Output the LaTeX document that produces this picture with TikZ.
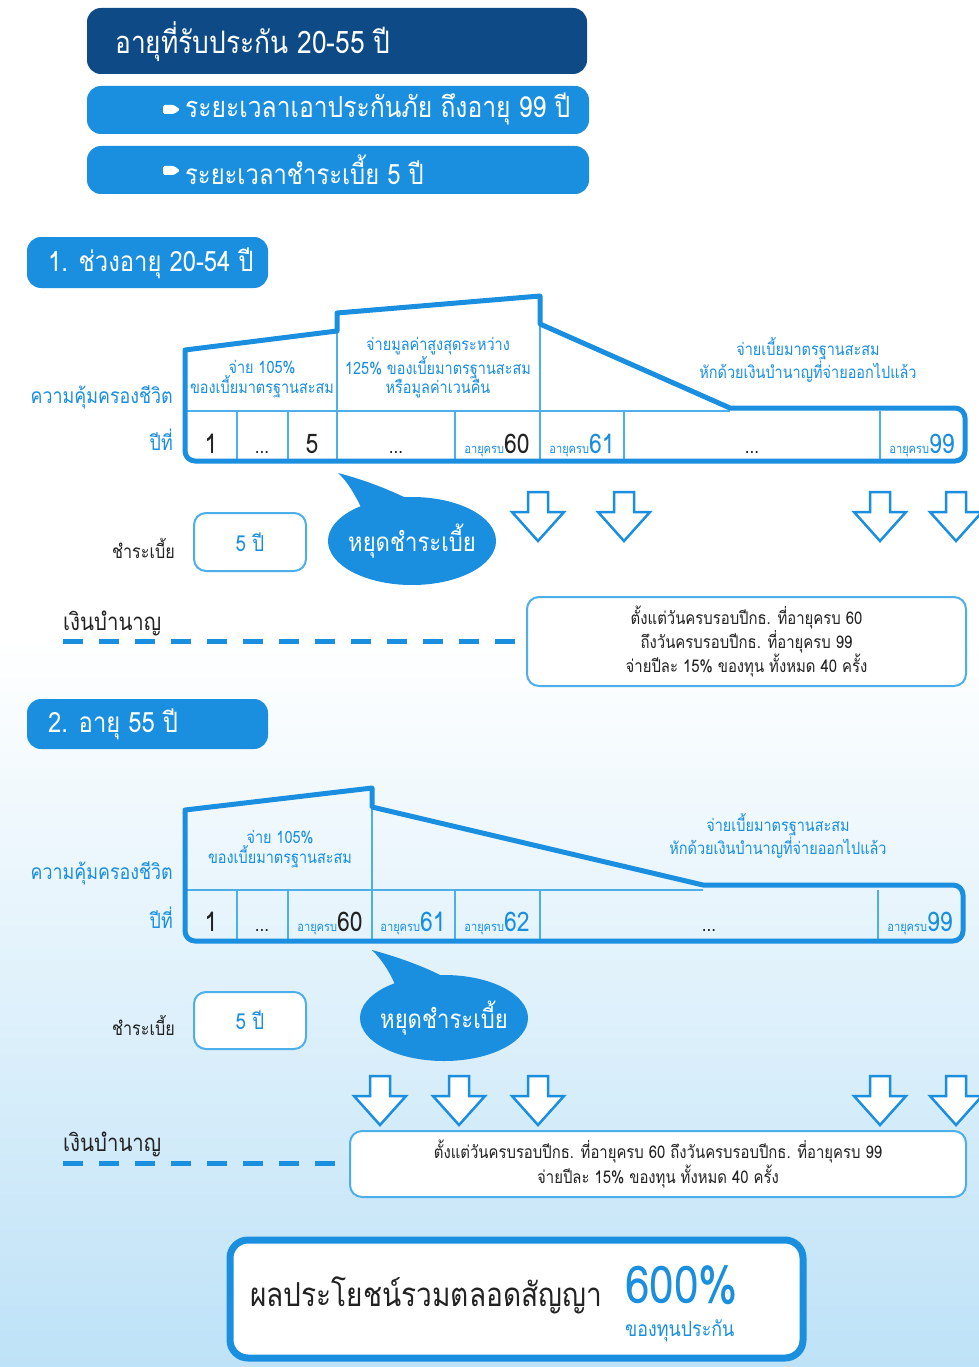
\documentclass[tikz,border=0pt]{standalone}
\usepackage{fontspec}
\setmainfont[Script=Thai, FakeStretch=0.85]{Loma}
\usetikzlibrary{shapes.geometric}
\definecolor{navy}{HTML}{0E4A86}
\definecolor{bblue}{HTML}{1A8EDF}
\definecolor{lblue}{HTML}{4DAFEA}
\definecolor{bgblue}{HTML}{BEE2F7}
\definecolor{txt}{HTML}{222222}
\newcommand{\fs}[1]{\fontsize{#1}{#1}\selectfont}
\newcommand{\ak}[2]{{\fs{13}\color{bblue}อายุครบ}{\fs{27}\color{#1}#2}}
\tikzset{
  navybox/.style={fill=navy, rounded corners=14},
  bluebox/.style={fill=bblue, rounded corners=14},
  thinbox/.style={draw=lblue, line width=2, fill=white, rounded corners=12},
  outline/.style={draw=bblue, line width=5, line join=round},
  cellline/.style={draw=lblue, line width=2},
  arrowline/.style={draw=bblue, line width=2.5, fill=white, line join=miter},
  dashline/.style={draw=bblue, line width=5, dash pattern=on 20 off 16},
  bubble/.style={fill=bblue},
  whitetxt/.style={text=white, inner sep=0, anchor=west},
  bluelbl/.style={text=bblue, inner sep=0},
  hdr/.style={text=bblue, inner sep=0, align=center, font=\fs{17}},
  yr/.style={text=txt, inner sep=0, anchor=base},
  darrow/.pic={\draw[arrowline] (-10,0) -- (10,0) -- (10,20) -- (26,20) -- (0,49) -- (-26,20) -- (-10,20) -- cycle;}
}
\begin{document}
\begin{tikzpicture}[x=1pt,y=-1pt]
\useasboundingbox (0,0) rectangle (979,1367);
\fill[white] (0,0) rectangle (979,640);
\shade[top color=white, bottom color=bgblue] (0,640) rectangle (979,1367);

% header boxes
\fill[navybox] (87,8) rectangle (587,74);
\node[whitetxt, font=\fs{31}] (h1) at (115,42) {อายุที่รับประกัน 20-55 ปี};
\fill[bluebox] (87,86) rectangle (589,134);
\fill[white, rounded corners=1.5] (163,105) -- (174,105) -- (180,109.5) -- (174,114) -- (163,114) -- cycle;
\node[whitetxt, font=\fs{29}] (h2) at (185,109) {ระยะเวลาเอาประกันภัย ถึงอายุ 99 ปี};
\fill[bluebox] (87,146) rectangle (589,194);
\fill[white, rounded corners=1.5] (163,166) -- (174,166) -- (180,170.5) -- (174,175) -- (163,175) -- cycle;
\node[whitetxt, font=\fs{28}] (h3) at (185,170) {ระยะเวลาชำระเบี้ย 5 ปี};

% section 1
\fill[bluebox] (27,237) rectangle (268,288);
\node[whitetxt, font=\fs{28}] (s1) at (48,263) {1. ช่วงอายุ 20-54 ปี};

\draw[cellline] (185,411) -- (730,411);
\draw[cellline] (337,331) -- (337,461);
\draw[cellline] (540,324) -- (540,461);
\foreach \x in {237,288,455,624,880} \draw[cellline] (\x,411) -- (\x,461);
\draw[outline] (185,350) -- (337,331) -- (337,313) -- (540,296) -- (540,324) -- (730,408) [rounded corners=10] -- (965,408) -- (965,461) -- (185,461) -- (185,400) [sharp corners] -- cycle;

\node[hdr] (a1) at (262,379) {จ่าย 105\%\\ของเบี้ยมาตรฐานสะสม};
\node[hdr] (a2) at (438,368) {จ่ายมูลค่าสูงสุดระหว่าง\\125\% ของเบี้ยมาตรฐานสะสม\\หรือมูลค่าเวนคืน};
\node[hdr] (a3) at (808,360) {จ่ายเบี้ยมาตรฐานสะสม\\หักด้วยเงินบำนาญที่จ่ายออกไปแล้ว};
\node[bluelbl, anchor=east, font=\fs{21}] (l1) at (173,397) {ความคุ้มครองชีวิต};
\node[bluelbl, anchor=east, font=\fs{21}] (l2) at (173,440) {ปีที่};

\node[yr, font=\fs{27}] (y11) at (211,453) {1};
\node[yr, font=\fs{20}] (y12) at (262,453) {...};
\node[yr, font=\fs{27}] (y13) at (312,453) {5};
\node[yr, font=\fs{20}] (y14) at (396,453) {...};
\node[yr] (y15) at (497,453) {\ak{txt}{60}};
\node[yr] (y16) at (582,453) {\ak{bblue}{61}};
\node[yr, font=\fs{20}] (y17) at (752,453) {...};
\node[yr] (y18) at (922,453) {\ak{bblue}{99}};

\fill[bubble] (362,509) .. controls (355,495) and (348,482) .. (338,473) .. controls (365,480) and (390,490) .. (408,499) -- cycle;
\node[bubble, ellipse, minimum width=168, minimum height=88, inner sep=0] (b1) at (412,541) {};
\node[text=white, font=\fs{26}, inner sep=0] (b1t) at (b1) {หยุดชำระเบี้ย};

\node[text=txt, anchor=east, inner sep=0, font=\fs{19}] (p1) at (175,548) {ชำระเบี้ย};
\node[thinbox, minimum width=112, minimum height=58, text=bblue, font=\fs{22}] (p1b) at (250,542) {5 ปี};

\foreach \x in {538,624,880,956} \pic at (\x,492) {darrow};

\node[text=txt, anchor=west, inner sep=0, font=\fs{24}] (n1) at (63,623) {เงินบำนาญ};
\coordinate (d1s) at (63,641);
\node[thinbox, minimum width=439, minimum height=89, text=txt, align=center, font=\fs{17.5}] (n1b) at (746.5,641.5) {ตั้งแต่วันครบรอบปีกธ. ที่อายุครบ 60\\ถึงวันครบรอบปีกธ. ที่อายุครบ 99\\จ่ายปีละ 15\% ของทุน ทั้งหมด 40 ครั้ง};
\draw[dashline] (d1s) -- (520,641);

% section 2
\fill[bluebox] (27,699) rectangle (268,749);
\node[whitetxt, font=\fs{28}] (s2) at (48,724) {2. อายุ 55 ปี};

\draw[cellline] (185,890) -- (703,890);
\draw[cellline] (372,807) -- (372,941);
\foreach \x in {237,288,455,540,878} \draw[cellline] (\x,890) -- (\x,941);
\draw[outline] (185,810) -- (372,788) -- (372,807) -- (703,885) [rounded corners=10] -- (963,885) -- (963,941) -- (185,941) -- (185,880) [sharp corners] -- cycle;

\node[hdr] (c1) at (280,849) {จ่าย 105\%\\ของเบี้ยมาตรฐานสะสม};
\node[hdr] (c3) at (778,836) {จ่ายเบี้ยมาตรฐานสะสม\\หักด้วยเงินบำนาญที่จ่ายออกไปแล้ว};
\node[bluelbl, anchor=east, font=\fs{21}] (l3) at (173,873) {ความคุ้มครองชีวิต};
\node[bluelbl, anchor=east, font=\fs{21}] (l4) at (173,918) {ปีที่};

\node[yr, font=\fs{27}] (y21) at (211,931) {1};
\node[yr, font=\fs{20}] (y22) at (262,931) {...};
\node[yr] (y23) at (330,931) {\ak{txt}{60}};
\node[yr] (y24) at (413,931) {\ak{bblue}{61}};
\node[yr] (y25) at (497,931) {\ak{bblue}{62}};
\node[yr, font=\fs{20}] (y26) at (709,931) {...};
\node[yr] (y27) at (920,931) {\ak{bblue}{99}};

\fill[bubble] (396,987) .. controls (390,972) and (382,960) .. (372,950) .. controls (398,957) and (425,967) .. (442,976) -- cycle;
\node[bubble, ellipse, minimum width=168, minimum height=86, inner sep=0] (b2) at (444,1018) {};
\node[text=white, font=\fs{26}, inner sep=0] (b2t) at (b2) {หยุดชำระเบี้ย};

\node[text=txt, anchor=east, inner sep=0, font=\fs{19}] (p2) at (175,1025) {ชำระเบี้ย};
\node[thinbox, minimum width=112, minimum height=57, text=bblue, font=\fs{22}] (p2b) at (250,1020.5) {5 ปี};

\foreach \x in {380,459,538,880,956} \pic at (\x,1076) {darrow};

\node[text=txt, anchor=west, inner sep=0, font=\fs{24}] (n2) at (63,1144) {เงินบำนาญ};
\coordinate (d2s) at (63,1163);
\node[thinbox, minimum width=616, minimum height=66, text=txt, align=center, font=\fs{17.5}] (n2b) at (658,1164) {ตั้งแต่วันครบรอบปีกธ. ที่อายุครบ 60 ถึงวันครบรอบปีกธ. ที่อายุครบ 99\\จ่ายปีละ 15\% ของทุน ทั้งหมด 40 ครั้ง};
\draw[dashline] (d2s) -- (340,1163);

% result
\node[draw=bblue, line width=7, fill=white, rounded corners=18, minimum width=573, minimum height=118, inner sep=0] (r) at (516.5,1299) {};
\node[text=txt, anchor=west, inner sep=0, font=\fs{33}] (r1) at (250,1295) {ผลประโยชน์รวมตลอดสัญญา};
\node[text=bblue, anchor=west, inner sep=0, font=\fs{52}] (r2) at (625,1285) {600\%};
\node[text=bblue, anchor=west, inner sep=0, font=\fs{21}] (r3) at (625,1331) {ของทุนประกัน};
\end{tikzpicture}
\end{document}
